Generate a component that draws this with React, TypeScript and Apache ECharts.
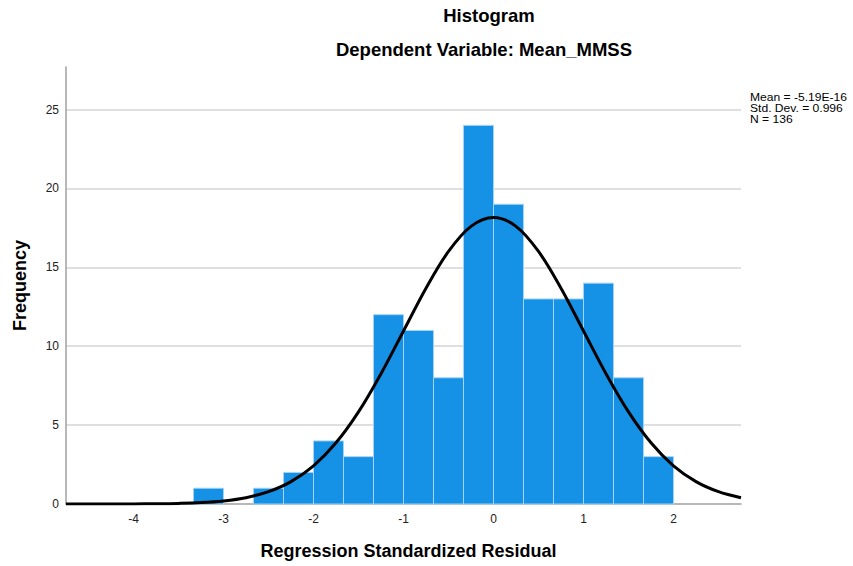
import React, { useEffect, useRef } from "react";
import * as echarts from "echarts";

const binWidth = 0.3333;
const binLower = [-3.3333, -2.6667, -2.3333, -2.0, -1.6667, -1.3333, -1.0, -0.6667, -0.3333, 0.0, 0.3333, 0.6667, 1.0, 1.3333, 1.6667];
const binCounts = [1, 1, 2, 4, 3, 12, 11, 8, 24, 19, 13, 13, 14, 8, 3];

const curveX = [-4.75, -4.5, -4.25, -4.0, -3.75, -3.5, -3.25, -3.0, -2.75, -2.5, -2.25, -2.0, -1.75, -1.5, -1.25, -1.0, -0.75, -0.5, -0.25, 0, 0.25, 0.5, 0.75, 1.0, 1.25, 1.5, 1.75, 2.0, 2.25, 2.5, 2.75];
const curveY = [0.0002, 0.0006, 0.002, 0.006, 0.015, 0.038, 0.088, 0.195, 0.40, 0.78, 1.42, 2.42, 3.88, 5.84, 8.26, 10.97, 13.68, 16.01, 17.60, 18.16, 17.60, 16.01, 13.68, 10.97, 8.26, 5.84, 3.88, 2.42, 1.42, 0.78, 0.40];

const xTickLabels = [-4, -3, -2, -1, 0, 1, 2];
const yTickLabels = [0, 5, 10, 15, 20, 25];

const titleText = "Histogram";
const subtitleText = "Dependent Variable: Mean_MMSS";
const statsLines = ["Mean = -5.19E-16", "Std. Dev. = 0.996", "N = 136"];

const FONT = "'Liberation Sans', Arial, sans-serif";

export default function App() {
  const ref = useRef<HTMLDivElement>(null);
  useEffect(() => {
    if (!ref.current) return;
    const chart = echarts.init(ref.current, null, { renderer: "svg" });
    const barData = binLower.map((lo, i) => [lo, lo + binWidth, binCounts[i]]);
    const lineData = curveX.map((x, i) => [x, curveY[i]]);
    chart.setOption({
      animation: false,
      backgroundColor: "#ffffff",
      textStyle: { fontFamily: FONT },
      grid: { left: 66, right: 112, top: 67, bottom: 62, containLabel: false },
      graphic: [
        {
          type: "text",
          x: 489,
          y: 6,
          style: { text: titleText, font: `bold 18.5px ${FONT}`, fill: "#000", textAlign: "center" },
        },
        {
          type: "text",
          x: 484,
          y: 40,
          style: { text: subtitleText, font: `bold 18.5px ${FONT}`, fill: "#000", textAlign: "center" },
        },
        {
          type: "group",
          x: 750,
          y: 92,
          scaleX: 1.1,
          children: statsLines.map((t, i) => ({
            type: "text",
            x: 0,
            y: i * 11,
            style: { text: t, font: `11px ${FONT}`, fill: "#000", textAlign: "left", textVerticalAlign: "top" },
          })),
        },
      ],
      xAxis: {
        type: "value",
        min: -4.75,
        max: 2.75,
        name: "Regression Standardized Residual",
        nameLocation: "middle",
        nameGap: 38,
        nameTextStyle: { fontFamily: FONT, fontSize: 18, fontWeight: "bold", color: "#000", padding: [0, 0, 0, 10] },
        axisLine: { show: true, onZero: false, lineStyle: { color: "#a0a0a0", width: 1.5 } },
        axisTick: { show: false },
        splitLine: { show: false },
        axisLabel: {
          customValues: xTickLabels,
          color: "#222",
          fontSize: 12,
          fontFamily: FONT,
          margin: 9,
        },
      },
      yAxis: {
        type: "value",
        min: 0,
        max: 27.7,
        interval: 5,
        name: "Frequency",
        nameLocation: "middle",
        nameGap: 37,
        nameTextStyle: { fontFamily: FONT, fontSize: 18, fontWeight: "bold", color: "#000" },
        axisLine: { show: true, onZero: false, lineStyle: { color: "#a0a0a0", width: 1.5 } },
        axisTick: { show: false },
        axisLabel: {
          customValues: yTickLabels,
          color: "#222",
          fontSize: 12,
          fontFamily: FONT,
          margin: 7,
        },
        splitLine: {
          show: true,
          showMinLine: false,
          showMaxLine: false,
          lineStyle: { color: "#d4d4d4", width: 1.5 },
        },
      },
      series: [
        {
          type: "custom",
          data: barData,
          encode: { x: [0, 1], y: 2 },
          z: 2,
          renderItem: (params: any, api: any) => {
            const x0 = api.value(0);
            const x1 = api.value(1);
            const y = api.value(2);
            const p0 = api.coord([x0, y]);
            const p1 = api.coord([x1, 0]);
            return {
              type: "rect",
              shape: { x: p0[0], y: p0[1], width: p1[0] - p0[0], height: p1[1] - p0[1] },
              style: { fill: "#1591e6", stroke: "#a6d3f5", lineWidth: 1 },
            };
          },
        },
        {
          type: "line",
          data: lineData,
          smooth: 0.35,
          showSymbol: false,
          symbol: "none",
          z: 3,
          lineStyle: { color: "#000", width: 3 },
        },
      ],
    });
    return () => chart.dispose();
  }, []);
  return <div ref={ref} style={{ width: 853, height: 566, position: "absolute", left: 0, top: 0 }} />;
}
